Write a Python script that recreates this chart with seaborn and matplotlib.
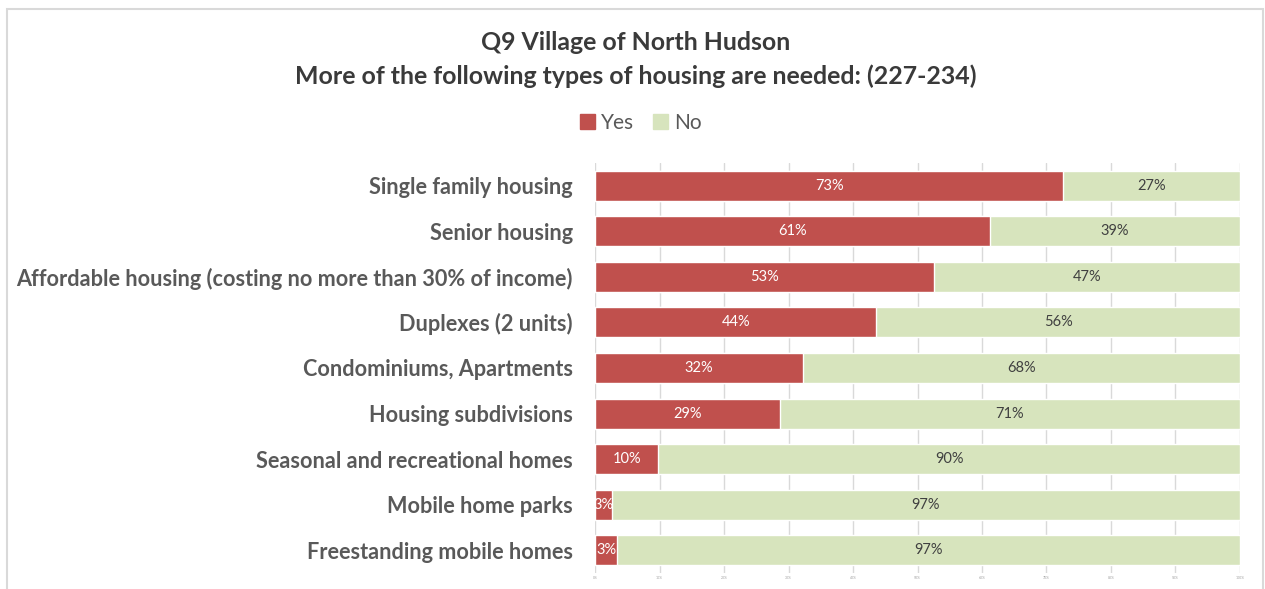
import matplotlib
matplotlib.use("Agg")
import matplotlib.pyplot as plt
import seaborn as sns
import pandas as pd
from matplotlib.patches import Rectangle, Patch

# data (share of answers, %)
categorias = [
    "Single family housing",
    "Senior housing",
    "Affordable housing (costing no more than 30% of income)",
    "Duplexes (2 units)",
    "Condominiums, Apartments",
    "Housing subdivisions",
    "Seasonal and recreational homes",
    "Mobile home parks",
    "Freestanding mobile homes",
]
sim = [72.6, 61.2, 52.6, 43.6, 32.2, 28.7, 9.8, 2.6, 3.4]
nao = [27.4, 38.8, 47.4, 56.4, 67.8, 71.3, 90.2, 97.4, 96.6]
ticks_x = [0, 10, 20, 30, 40, 50, 60, 70, 80, 90, 100]

cor_sim = "#C0504D"
cor_nao = "#D7E4BD"
cinza = "#595959"

df = pd.DataFrame({"categoria": categorias, "sim": sim, "nao": nao})
df["total"] = df["sim"] + df["nao"]

sns.set_style("white")
plt.rcParams["font.family"] = ["Lato", "DejaVu Sans"]

fig = plt.figure(figsize=(12.65, 5.89), dpi=100)
ax = fig.add_axes([0.4704, 0.0272, 0.5098, 0.6961])

# moldura do gráfico
fig.patches.append(Rectangle((7 / 1265, -0.05), 1256 / 1265, 1.05 - 9 / 589,
                             transform=fig.transFigure, fill=False,
                             edgecolor="#D9D9D9", linewidth=1.5))

# barras empilhadas: total (No) por baixo, Yes por cima
sns.barplot(data=df, x="total", y="categoria", color=cor_nao, orient="h",
            width=0.66, ax=ax, zorder=2, saturation=1)
sns.barplot(data=df, x="sim", y="categoria", color=cor_sim, orient="h",
            width=0.66, ax=ax, zorder=3, saturation=1)

for i, (s, n) in enumerate(zip(sim, nao)):
    ax.text(s / 2, i, f"{round(s)}%", color="white", ha="center", va="center",
            fontsize=10.5, zorder=4)
    ax.text(s + n / 2, i, f"{round(n)}%", color="#404040", ha="center",
            va="center", fontsize=10.5, zorder=4)

ax.set_xlim(0, 100)
ax.set_ylim(len(categorias) - 0.5, -0.5)
ax.set_xticks(ticks_x)
ax.set_xticklabels([f"{t}%" for t in ticks_x], fontsize=2.5, color="#A0A0A0")
ax.tick_params(axis="x", length=0, pad=2)
ax.tick_params(axis="y", length=0, pad=16)
ax.set_yticklabels(categorias, fontsize=15.6, fontweight="bold", color=cinza)
ax.grid(axis="x", color="#D9D9D9", linewidth=1, zorder=0)
ax.set_axisbelow(True)
for sp in ax.spines.values():
    sp.set_visible(False)
ax.set_xlabel("")
ax.set_ylabel("")

fig.text(636 / 1265, 1 - 42 / 589, "Q9 Village of North Hudson", ha="center",
         va="center", fontsize=17.9, fontweight="bold", color="#3A3A3A")
fig.text(636 / 1265, 1 - 76 / 589,
         "More of the following types of housing are needed: (227-234)",
         ha="center", va="center", fontsize=17.9, fontweight="bold",
         color="#3A3A3A")

handles = [Patch(color=cor_sim, label="Yes"), Patch(color=cor_nao, label="No")]
fig.legend(handles=handles, loc="center", bbox_to_anchor=(641 / 1265, 1 - 123 / 589),
           ncol=2, frameon=False, fontsize=15, handlelength=0.7,
           handleheight=0.7, handletextpad=0.3, columnspacing=0.9,
           labelcolor=cinza)

fig.savefig("out.png", dpi=100)
